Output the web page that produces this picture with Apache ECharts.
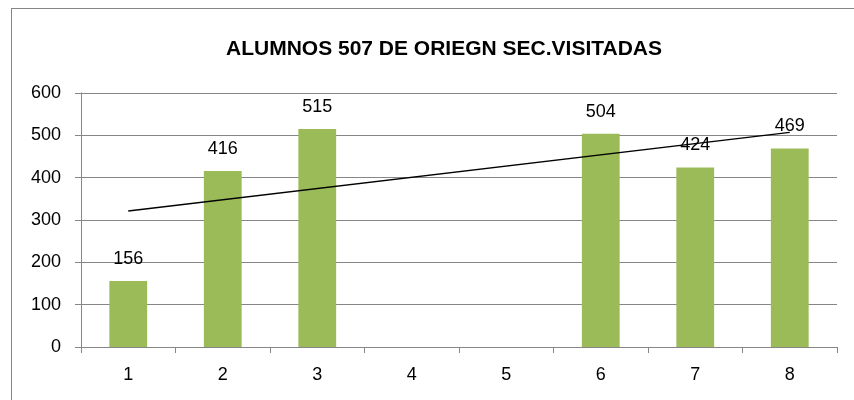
<!DOCTYPE html>
<html>
<head>
<meta charset="UTF-8">
<title></title>
<script src="https://cdn.jsdelivr.net/npm/echarts@6/dist/echarts.min.js"></script>
<style>
  body { margin: 0; background: #fff; }
  #frame { position: absolute; left: 11px; top: 8px; width: 860px; height: 400px; border: 1px solid #868686; box-sizing: border-box; }
  #container { width: 854px; height: 400px; position: absolute; left: 0; top: 0; }
</style>
</head>
<body>
<div id="frame"></div>
<div id="container"></div>
<script type="text/javascript">
  var categories = ['1', '2', '3', '4', '5', '6', '7', '8'];
  var alumnos = [156, 416, 515, null, null, 504, 424, 469];
  // tendencia lineal: solo los extremos
  var tendencia = [321, null, null, null, null, null, null, 507];
  var yTicks = [0, 100, 200, 300, 400, 500, 600];

  var myChart = echarts.init(document.getElementById('container'));
  var font = 'Liberation Sans, Arial, sans-serif';

  var option = {
    animation: false,
    title: {
      text: 'ALUMNOS 507 DE ORIEGN SEC.VISITADAS',
      left: 439,
      textAlign: 'center',
      top: 34,
      textStyle: { fontFamily: font, fontSize: 21, fontWeight: 'bold', color: '#000' }
    },
    grid: { left: 81, right: 17, top: 93, bottom: 53 },
    xAxis: {
      type: 'category',
      data: categories,
      axisLine: { lineStyle: { color: '#868686' } },
      axisTick: { show: true, length: 6, lineStyle: { color: '#868686' } },
      axisLabel: { fontFamily: font, fontSize: 18, color: '#000', margin: 19 }
    },
    yAxis: {
      type: 'value',
      min: yTicks[0],
      max: yTicks[yTicks.length - 1],
      interval: 100,
      axisLine: { show: true, lineStyle: { color: '#868686' } },
      axisTick: { show: true, length: 6, lineStyle: { color: '#868686' } },
      splitLine: { lineStyle: { color: '#868686' } },
      axisLabel: { fontFamily: font, fontSize: 18, color: '#000', margin: 20 }
    },
    series: [
      {
        name: 'Alumnos',
        type: 'bar',
        data: alumnos,
        barWidth: '40%',
        itemStyle: { color: '#9BBB59' },
        label: {
          show: true,
          position: 'top',
          distance: 13,
          fontFamily: font,
          fontSize: 18,
          color: '#000'
        }
      },
      {
        name: 'Tendencia',
        type: 'line',
        data: tendencia,
        connectNulls: true,
        symbol: 'none',
        lineStyle: { color: '#000', width: 1.5 },
        z: 5
      }
    ]
  };
  myChart.setOption(option);
</script>
</body>
</html>
